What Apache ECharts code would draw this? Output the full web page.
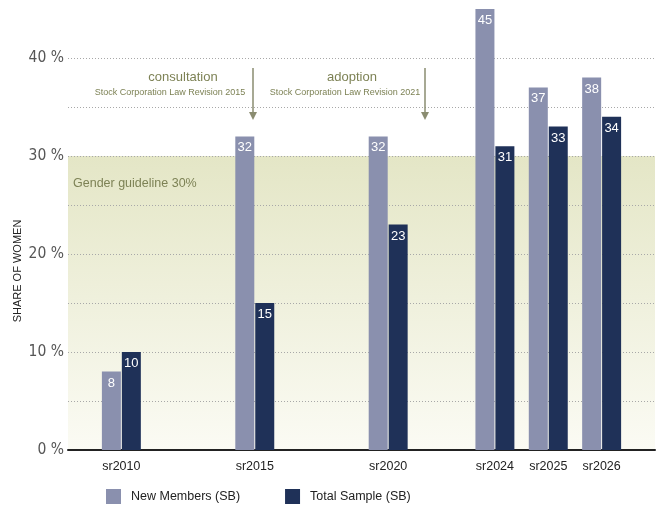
<!DOCTYPE html>
<html>
<head>
<meta charset="utf-8">
<script src="https://cdn.jsdelivr.net/npm/echarts@6/dist/echarts.min.js"></script>
<style>
  html, body { margin: 0; padding: 0; background: #fff; }
  #chart { width: 665px; height: 508px; }
</style>
</head>
<body>
<div id="chart"></div>
<script>
// Survey rounds and shares of women on supervisory boards (%)
const periods = ['sr2010', 'sr2015', 'sr2020', 'sr2024', 'sr2025', 'sr2026'];
const newMembers = [8, 32, 32, 45, 37, 38];
const totalSample = [10, 15, 23, 31, 33, 34];
// slot of each survey round on an evenly spaced timeline of 23 slots
const periodSlots = [2, 7, 12, 16, 18, 20];
const slotCount = 23;
const guideline = 30;

const seriesNames = ['New Members (SB)', 'Total Sample (SB)'];
const colors = ['#8a90ae', '#1f3158'];
const olive = '#7d8255';
const arrowColor = '#8a8c70';
const font = '"Liberation Sans", Arial, sans-serif';

const grid = { left: 68, right: 10, top: 9, bottom: 58 };

// spread the rounds over the timeline slots
const categories = new Array(slotCount).fill('');
const newData = new Array(slotCount).fill(null);
const totalData = new Array(slotCount).fill(null);
periodSlots.forEach((s, i) => {
  categories[s] = periods[i];
  newData[s] = newMembers[i];
  totalData[s] = totalSample[i];
});

const chart = echarts.init(document.getElementById('chart'), null, { renderer: 'canvas' });

const barLabel = {
  show: true,
  position: 'insideTop',
  distance: 5,
  color: '#fff',
  fontSize: 13,
  fontFamily: font
};

chart.setOption({
  animation: false,
  backgroundColor: '#fff',
  color: colors,
  grid: grid,
  legend: {
    data: seriesNames,
    icon: 'rect',
    itemWidth: 15,
    itemHeight: 15,
    itemGap: 45,
    left: 106,
    top: 489,
    padding: 0,
    textStyle: { color: '#222', fontSize: 12.5, fontFamily: font, padding: [0, 0, 0, 5] }
  },
  xAxis: {
    type: 'category',
    data: categories,
    boundaryGap: false,
    axisLine: { lineStyle: { color: '#222', width: 2 } },
    axisTick: { show: false },
    axisLabel: { interval: 0, color: '#222', fontSize: 12.5, fontFamily: font, margin: 10 },
    splitLine: { show: false }
  },
  yAxis: {
    type: 'value',
    min: 0,
    max: 45,
    interval: 5,
    axisLine: { show: false },
    axisTick: { show: false },
    axisLabel: {
      color: '#555',
      fontSize: 15.5,
      fontFamily: '"Liberation Sans Narrow", "DejaVu Sans Condensed", sans-serif',
      margin: 4,
      formatter: v => (v % 10 === 0 ? v + ' %' : '')
    },
    splitLine: {
      show: true,
      showMinLine: false,
      showMaxLine: false,
      lineStyle: { color: '#a8a8a8', type: [1, 2], width: 1 }
    }
  },
  series: [
    {
      name: seriesNames[0],
      type: 'bar',
      data: newData,
      barWidth: 19,
      barGap: '5%',
      label: barLabel
    },
    {
      name: seriesNames[1],
      type: 'bar',
      data: totalData,
      barWidth: 19,
      barGap: '5%',
      label: barLabel
    }
  ]
});

// guideline band, axis title and the law-revision notes
const yTop = chart.convertToPixel({ yAxisIndex: 0 }, guideline);
const yZero = chart.convertToPixel({ yAxisIndex: 0 }, 0);
const plotLeft = grid.left;
const plotWidth = 665 - grid.left - grid.right;

function arrow(x) {
  return [
    { type: 'line', z: 10, shape: { x1: x, y1: 68, x2: x, y2: 113 },
      style: { stroke: arrowColor, lineWidth: 1.5 } },
    { type: 'polygon', z: 10, shape: { points: [[x - 4, 112], [x + 4, 112], [x, 120]] },
      style: { fill: arrowColor } }
  ];
}

function note(text, x, y, size) {
  return { type: 'text', z: 10, x: x, y: y,
    style: { text: text, fill: olive, fontSize: size, fontFamily: font,
      align: 'center', verticalAlign: 'middle' } };
}

chart.setOption({
  graphic: [
    {
      type: 'rect', z: -1, silent: true,
      shape: { x: plotLeft, y: yTop, width: plotWidth, height: yZero - yTop },
      style: {
        fill: new echarts.graphic.LinearGradient(0, 0, 0, 1, [
          { offset: 0, color: '#e4e6c6' },
          { offset: 1, color: '#fbfbf4' }
        ])
      }
    },
    { type: 'text', z: 10, x: 18, y: 271, rotation: Math.PI / 2,
      style: { text: 'SHARE OF WOMEN', fill: '#222', fontSize: 11, fontFamily: font,
        align: 'center', verticalAlign: 'middle' } },
    { type: 'text', z: 10, x: 73, y: yTop + 28,
      style: { text: 'Gender guideline 30%', fill: olive, fontSize: 12.5, fontFamily: font,
        align: 'left', verticalAlign: 'middle' } },
    note('consultation', 183, 77, 13),
    note('Stock Corporation Law Revision 2015', 170, 93, 9),
    note('adoption', 352, 77, 13),
    note('Stock Corporation Law Revision 2021', 345, 93, 9),
    ...arrow(253),
    ...arrow(425)
  ]
});
</script>
</body>
</html>
